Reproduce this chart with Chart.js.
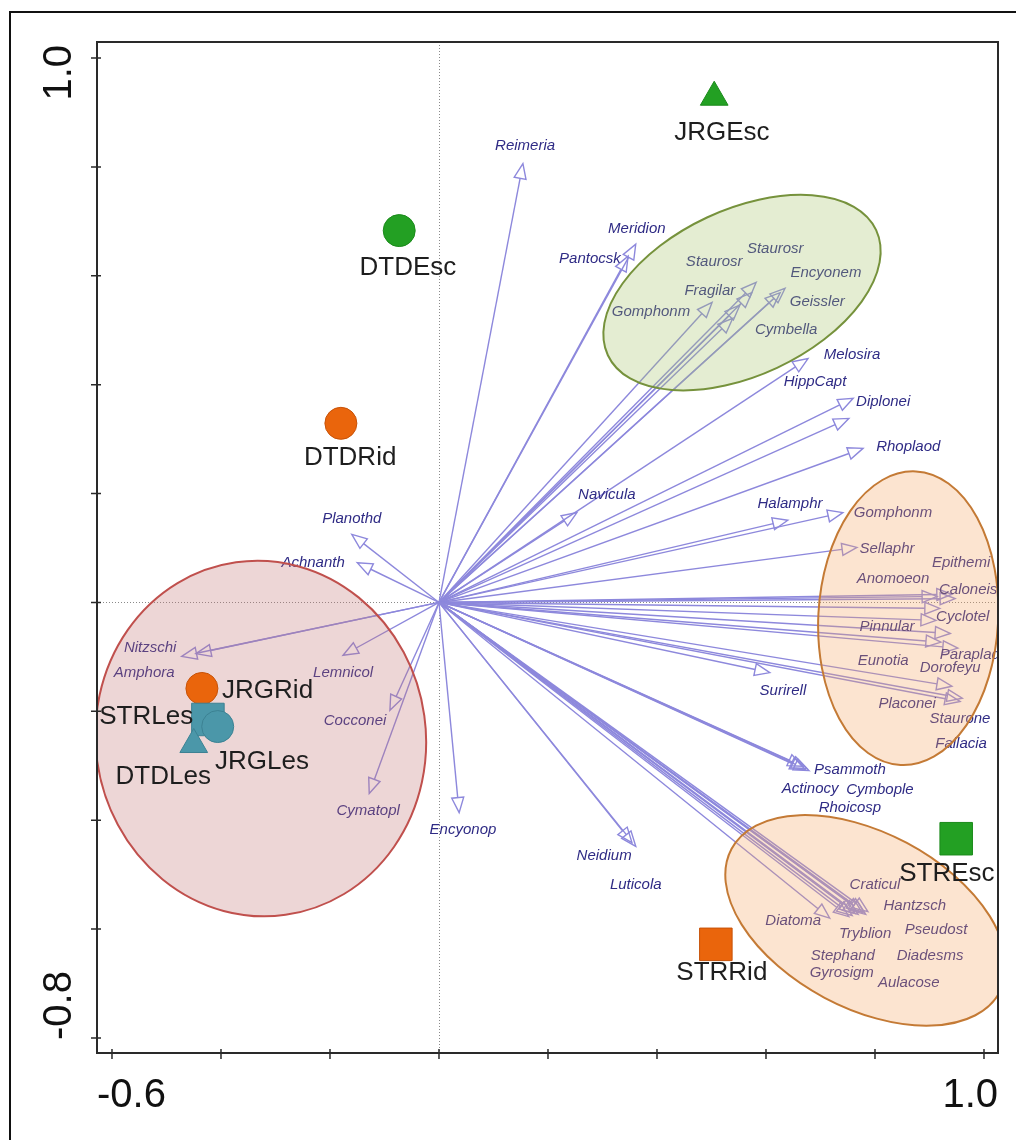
<!DOCTYPE html>
<html><head><meta charset="utf-8">
<script src="https://cdn.jsdelivr.net/npm/chart.js@4"></script>
<style>html,body{margin:0;padding:0;background:#fff}canvas{display:block}</style>
</head><body>
<canvas id="c" width="1016" height="1140"></canvas>
<script>
// ---------- DATA ----------
const speciesNames = ['Reimeria','Meridion','Pantocsk','Gomphonm','Staurosr','Staurosr','Fragilar','Encyonem','Geissler','Cymbella',
  'Melosira','HippCapt','Diplonei','Rhoplaod','Halamphr','Gomphonm','Sellaphr','Navicula','Epithemi','Anomoeon',
  'Caloneis','Cyclotel','Pinnular','Dorofeyu','Eunotia','Paraplad','Placonei','Staurone','Fallacia','Surirell',
  'Psammoth','Actinocy','Cymbople','Rhoicosp','Neidium','Luticola','Encyonop','Diatoma','Craticul','Hantzsch',
  'Pseudost','Tryblion','Stephand','Diadesms','Gyrosigm','Aulacose','Planothd','Achnanth','Nitzschi','Amphora',
  'Lemnicol','Cocconei','Cymatopl'];
const speciesX = [0.154,0.361,0.347,0.501,0.582,0.574,0.552,0.635,0.626,0.539,
  0.677,0.752,0.760,0.778,0.640,0.741,0.767,0.253,0.941,0.914,
  0.947,0.919,0.912,0.938,0.921,0.952,0.941,0.960,0.956,0.607,
  0.675,0.668,0.679,0.672,0.361,0.354,0.037,0.717,0.787,0.783,
  0.776,0.769,0.758,0.780,0.752,0.763,-0.160,-0.150,-0.446,-0.472,
  -0.176,-0.090,-0.128];
const speciesY = [0.806,0.658,0.636,0.551,0.588,0.569,0.546,0.577,0.569,0.522,
  0.448,0.338,0.375,0.283,0.151,0.165,0.101,0.165,0.015,0.011,
  0.007,-0.011,-0.033,-0.057,-0.073,-0.084,-0.154,-0.176,-0.182,-0.129,
  -0.305,-0.301,-0.309,-0.307,-0.448,-0.441,-0.386,-0.580,-0.568,-0.573,
  -0.569,-0.573,-0.575,-0.569,-0.577,-0.571,0.125,0.073,-0.094,-0.099,
  -0.097,-0.198,-0.351];
const speciesLabelX = [0.158,0.363,0.277,0.389,0.505,0.617,0.497,0.710,0.694,0.637,
  0.758,0.690,0.815,0.861,0.644,0.833,0.822,0.308,0.958,0.833,
  0.971,0.961,0.822,0.938,0.815,0.974,0.859,0.956,0.958,0.631,
  0.754,0.681,0.809,0.754,0.303,0.361,0.044,0.650,0.800,0.873,
  0.912,0.782,0.741,0.901,0.739,0.862,-0.160,-0.231,-0.530,-0.541,
  -0.176,-0.154,-0.130];
const speciesLabelY = [0.838,0.687,0.632,0.533,0.625,0.650,0.573,0.606,0.553,0.500,
  0.454,0.406,0.369,0.285,0.182,0.165,0.099,0.197,0.072,0.044,
  0.024,-0.026,-0.044,-0.121,-0.107,-0.096,-0.187,-0.213,-0.259,-0.162,
  -0.307,-0.342,-0.345,-0.378,-0.465,-0.518,-0.417,-0.584,-0.518,-0.557,
  -0.601,-0.608,-0.650,-0.650,-0.680,-0.698,0.154,0.073,-0.084,-0.130,
  -0.129,-0.217,-0.382];

const siteNames = ['JRGEsc','DTDEsc','DTDRid','JRGRid','STRLes','JRGLes','DTDLes','STREsc','STRRid'];
const siteX = [0.505,-0.073,-0.180,-0.435,-0.424,-0.406,-0.450,0.949,0.508];
const siteY = [0.928,0.683,0.329,-0.158,-0.215,-0.228,-0.261,-0.434,-0.628];
const siteHabitat = ['Esc','Esc','Rid','Rid','Les','Les','Les','Esc','Rid'];
const siteLabelX = [0.519,-0.057,-0.163,-0.398,-0.451,-0.411,-0.506,0.932,0.519];
const siteLabelY = [0.863,0.615,0.266,-0.162,-0.211,-0.292,-0.320,-0.498,-0.680];

// group ellipses (centre, semi-axes in axis units, rotation in degrees)
const ellipseCX = [0.556, 0.861, 0.783, -0.327];
const ellipseCY = [0.569, -0.029, -0.584, -0.250];
const ellipseRX = [0.2716, 0.165, 0.279, 0.303];
const ellipseRY = [0.1523, 0.270, 0.161, 0.327];
const ellipseRot = [-25, 3, 28, -8];

const xTickValues = [-0.6,-0.4,-0.2,0,0.2,0.4,0.6,0.8,1.0];
const yTickValues = [-0.8,-0.6,-0.4,-0.2,0,0.2,0.4,0.6,0.8,1.0];
const xTickLabels = {'-0.6':'-0.6','1':'1.0'};
const yTickLabels = {'-0.8':'-0.8','1':'1.0'};

// ---------- STYLE ----------
const habitatColor = {Esc:'#23A023', Rid:'#EA650C', Les:'#4B97A9'};
const habitatBorder = {Esc:'#1B8A1B', Rid:'#C75208', Les:'#3C8293'};
const siteShape = ['triangle','circle','circle','circle','rect','circle','triangle','rect','rect'];
const siteRadius = siteShape.map(s => s==='rect' ? 23 : 16);
const siteAlign = ['center','center','center','left','right','left','center','center','center'];
const ellipseFill = ['rgba(165,195,105,0.30)','rgba(245,165,98,0.30)','rgba(245,165,98,0.30)','rgba(195,118,118,0.30)'];
const ellipseStroke = ['#76923C','#C47A35','#C47A35','#C0504D'];
const arrowColor = '#8D88DC';
const labelColor = '#2F2B85';

const overlay = {
  id:'overlay',
  beforeDatasetsDraw(chart){
    const {ctx, chartArea:a, scales:{x,y}} = chart;
    ctx.save();
    ctx.beginPath(); ctx.rect(a.left,a.top,a.right-a.left,a.bottom-a.top); ctx.clip();
    // zero lines
    ctx.strokeStyle='#8a8a8a'; ctx.lineWidth=1; ctx.setLineDash([1,2]);
    ctx.beginPath();
    const x0=Math.round(x.getPixelForValue(0))+0.5, y0=Math.round(y.getPixelForValue(0))+0.5;
    ctx.moveTo(x0,a.top); ctx.lineTo(x0,a.bottom);
    ctx.moveTo(a.left,y0); ctx.lineTo(a.right,y0);
    ctx.stroke(); ctx.setLineDash([]);
    // arrows
    const ox=x.getPixelForValue(0), oy=y.getPixelForValue(0);
    ctx.strokeStyle=arrowColor; ctx.lineWidth=1.4; ctx.lineJoin='miter';
    const L=15, W=6;
    for(let i=0;i<speciesNames.length;i++){
      const tx=x.getPixelForValue(speciesX[i]), ty=y.getPixelForValue(speciesY[i]);
      const dx=tx-ox, dy=ty-oy, len=Math.hypot(dx,dy), ux=dx/len, uy=dy/len;
      const bx=tx-ux*L, by=ty-uy*L;
      ctx.beginPath(); ctx.moveTo(ox,oy); ctx.lineTo(bx,by); ctx.stroke();
      ctx.beginPath();
      ctx.moveTo(tx,ty);
      ctx.lineTo(bx-uy*W, by+ux*W);
      ctx.lineTo(bx+uy*W, by-ux*W);
      ctx.closePath(); ctx.stroke();
    }
    // species labels
    ctx.fillStyle=labelColor; ctx.font='italic 15px "Liberation Sans", Arial, sans-serif';
    ctx.textAlign='center'; ctx.textBaseline='middle';
    for(let i=0;i<speciesNames.length;i++){
      ctx.fillText(speciesNames[i], x.getPixelForValue(speciesLabelX[i]), y.getPixelForValue(speciesLabelY[i]));
    }
    // ellipses
    for(let i=0;i<ellipseCX.length;i++){
      const cx=x.getPixelForValue(ellipseCX[i]), cy=y.getPixelForValue(ellipseCY[i]);
      const rx=Math.abs(x.getPixelForValue(ellipseCX[i]+ellipseRX[i])-cx);
      const ry=Math.abs(y.getPixelForValue(ellipseCY[i]+ellipseRY[i])-cy);
      ctx.beginPath(); ctx.ellipse(cx,cy,rx,ry,ellipseRot[i]*Math.PI/180,0,Math.PI*2);
      ctx.fillStyle=ellipseFill[i]; ctx.fill();
      ctx.strokeStyle=ellipseStroke[i]; ctx.lineWidth=2; ctx.stroke();
    }
    ctx.restore();
  },
  afterDatasetsDraw(chart){
    const {ctx, chartArea:a, scales:{x,y}} = chart;
    ctx.save();
    // site labels
    ctx.fillStyle='#1e1e1e'; ctx.font='26px "Liberation Sans", Arial, sans-serif'; ctx.textBaseline='middle';
    for(let i=0;i<siteNames.length;i++){
      ctx.textAlign=siteAlign[i];
      ctx.fillText(siteNames[i], x.getPixelForValue(siteLabelX[i]), y.getPixelForValue(siteLabelY[i]));
    }
    // box
    ctx.strokeStyle='#2a2a2a'; ctx.lineWidth=2;
    ctx.strokeRect(a.left,a.top,a.right-a.left,a.bottom-a.top);
    // ticks
    ctx.lineWidth=1.5; ctx.beginPath();
    yTickValues.forEach(v=>{const p=y.getPixelForValue(v); ctx.moveTo(a.left-6,p); ctx.lineTo(a.left+4,p);});
    xTickValues.forEach(v=>{const p=x.getPixelForValue(v); ctx.moveTo(p,a.bottom-4); ctx.lineTo(p,a.bottom+6);});
    ctx.stroke();
    // tick labels
    ctx.fillStyle='#111'; ctx.font='40px "Liberation Sans", Arial, sans-serif'; ctx.textBaseline='alphabetic';
    xTickValues.forEach(v=>{
      const t=xTickLabels[String(v)]; if(!t) return;
      const w=ctx.measureText(t).width; let c=x.getPixelForValue(v)-w/2;
      c=Math.max(a.left,Math.min(a.right-w,c));
      ctx.textAlign='left'; ctx.fillText(t,c,a.bottom+54);
    });
    yTickValues.forEach(v=>{
      const t=yTickLabels[String(v)]; if(!t) return;
      const w=ctx.measureText(t).width; let c=y.getPixelForValue(v)-w/2;
      c=Math.max(a.top+3,Math.min(a.bottom-13-w,c));
      ctx.save(); ctx.translate(a.left-26, c+w); ctx.rotate(-Math.PI/2);
      ctx.textAlign='left'; ctx.fillText(t,0,0); ctx.restore();
    });
    ctx.restore();
  },
  afterDraw(chart){
    const ctx=chart.ctx; ctx.save();
    ctx.strokeStyle='#111'; ctx.lineWidth=2;
    ctx.strokeRect(10,12,1200,1300);
    ctx.restore();
  }
};

new Chart(document.getElementById('c'), {
  type:'scatter',
  data:{datasets:[{
    label:'Sites',
    data: siteX.map((v,i)=>({x:v,y:siteY[i]})),
    pointStyle: siteShape,
    pointRadius: siteRadius,
    pointHoverRadius: siteRadius,
    backgroundColor: siteHabitat.map(h=>habitatColor[h]),
    borderColor: siteHabitat.map(h=>habitatBorder[h]),
    borderWidth: 1,
    clip: false
  }]},
  options:{
    responsive:false, animation:false, devicePixelRatio:1,
    layout:{autoPadding:false, padding:{left:97,top:42,right:18,bottom:87}},
    scales:{
      x:{type:'linear',min:-0.6275,max:1.0257,display:false},
      y:{type:'linear',min:-0.8276,max:1.0294,display:false}
    },
    plugins:{legend:{display:false},tooltip:{enabled:false}},
    events:[]
  },
  plugins:[overlay]
});
</script>
</body></html>
